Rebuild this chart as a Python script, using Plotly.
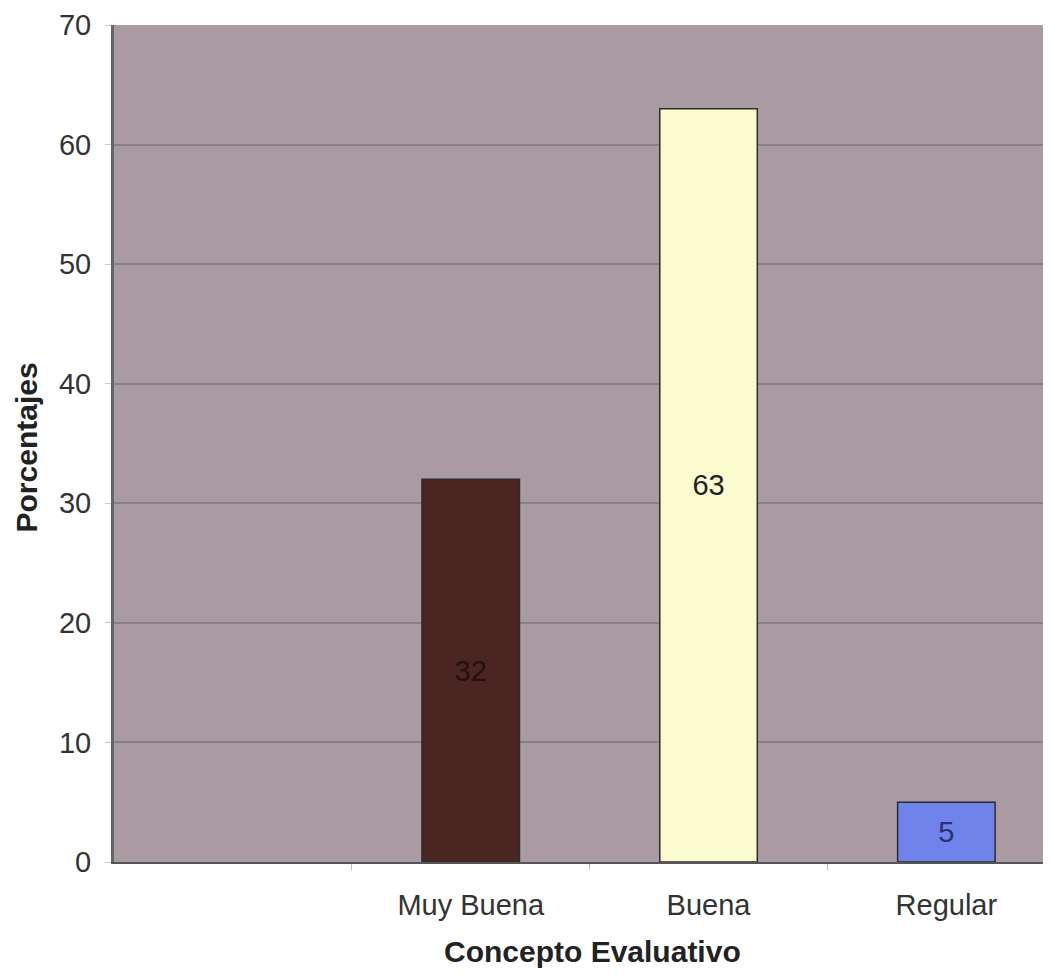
import plotly.graph_objects as go

categories = ["", "Muy Buena", "Buena", "Regular"]
values = [None, 32, 63, 5]
labels = ["", "32", "63", "5"]
bar_colors = ["#a89ba0", "#4b2521", "#fbfbd0", "#6f83ea"]
text_colors = ["#000000", "#24100e", "#222222", "#2a3070"]
y_ticks = [0, 10, 20, 30, 40, 50, 60, 70]

positions = list(range(len(categories)))

fig = go.Figure()
fig.add_trace(go.Bar(
    x=positions,
    y=values,
    width=0.41,
    marker=dict(color=bar_colors, line=dict(color="#2b2b2b", width=1.5)),
    text=labels,
    textposition="inside",
    insidetextanchor="middle",
    textangle=0,
    textfont=dict(family="Liberation Sans, Arial", size=29, color=text_colors),
    showlegend=False,
    hoverinfo="skip",
))

fig.update_layout(
    width=1043,
    height=969,
    margin=dict(l=106, r=0, t=17, b=115),
    paper_bgcolor="white",
    plot_bgcolor="#a99ba1",
    font=dict(family="Liberation Sans, Arial", size=29, color="#333333"),
    xaxis=dict(
        automargin=False,
        range=[-0.5, 3.44],
        tickmode="array",
        tickvals=positions[1:],
        ticktext=categories[1:],
        ticks="",
        showgrid=False,
        zeroline=False,
        showline=True,
        linecolor="#555555",
        linewidth=2,
        tickfont=dict(size=29, color="#333333"),
        ticklabelstandoff=16,
        minor=dict(tickvals=[0.5, 1.5, 2.5, 3.5], ticks="outside", ticklen=6,
                   tickcolor="#bbbbbb", showgrid=False),
    ),
    yaxis=dict(
        automargin=False,
        range=[0, 70],
        tickvals=y_ticks,
        ticks="outside",
        ticklen=6,
        tickcolor="#cccccc",
        showgrid=True,
        gridcolor="#8b7e85",
        gridwidth=2,
        zeroline=False,
        showline=True,
        linecolor="#666666",
        linewidth=3,
        tickfont=dict(size=29, color="#333333"),
        ticklabelstandoff=8,
    ),
    bargap=0.6,
    annotations=[
        dict(text="<b>Concepto Evaluativo</b>", xref="paper", yref="paper",
             x=0.5, y=0, xanchor="center", yanchor="middle", xshift=10, yshift=-89,
             showarrow=False, font=dict(size=30, color="#222222")),
        dict(text="<b>Porcentajes</b>", xref="paper", yref="paper",
             x=0, y=0.5, xanchor="center", yanchor="middle", xshift=-88, yshift=-4,
             textangle=-90, showarrow=False, font=dict(size=30, color="#222222")),
    ],
)

fig.write_html("out.html")
